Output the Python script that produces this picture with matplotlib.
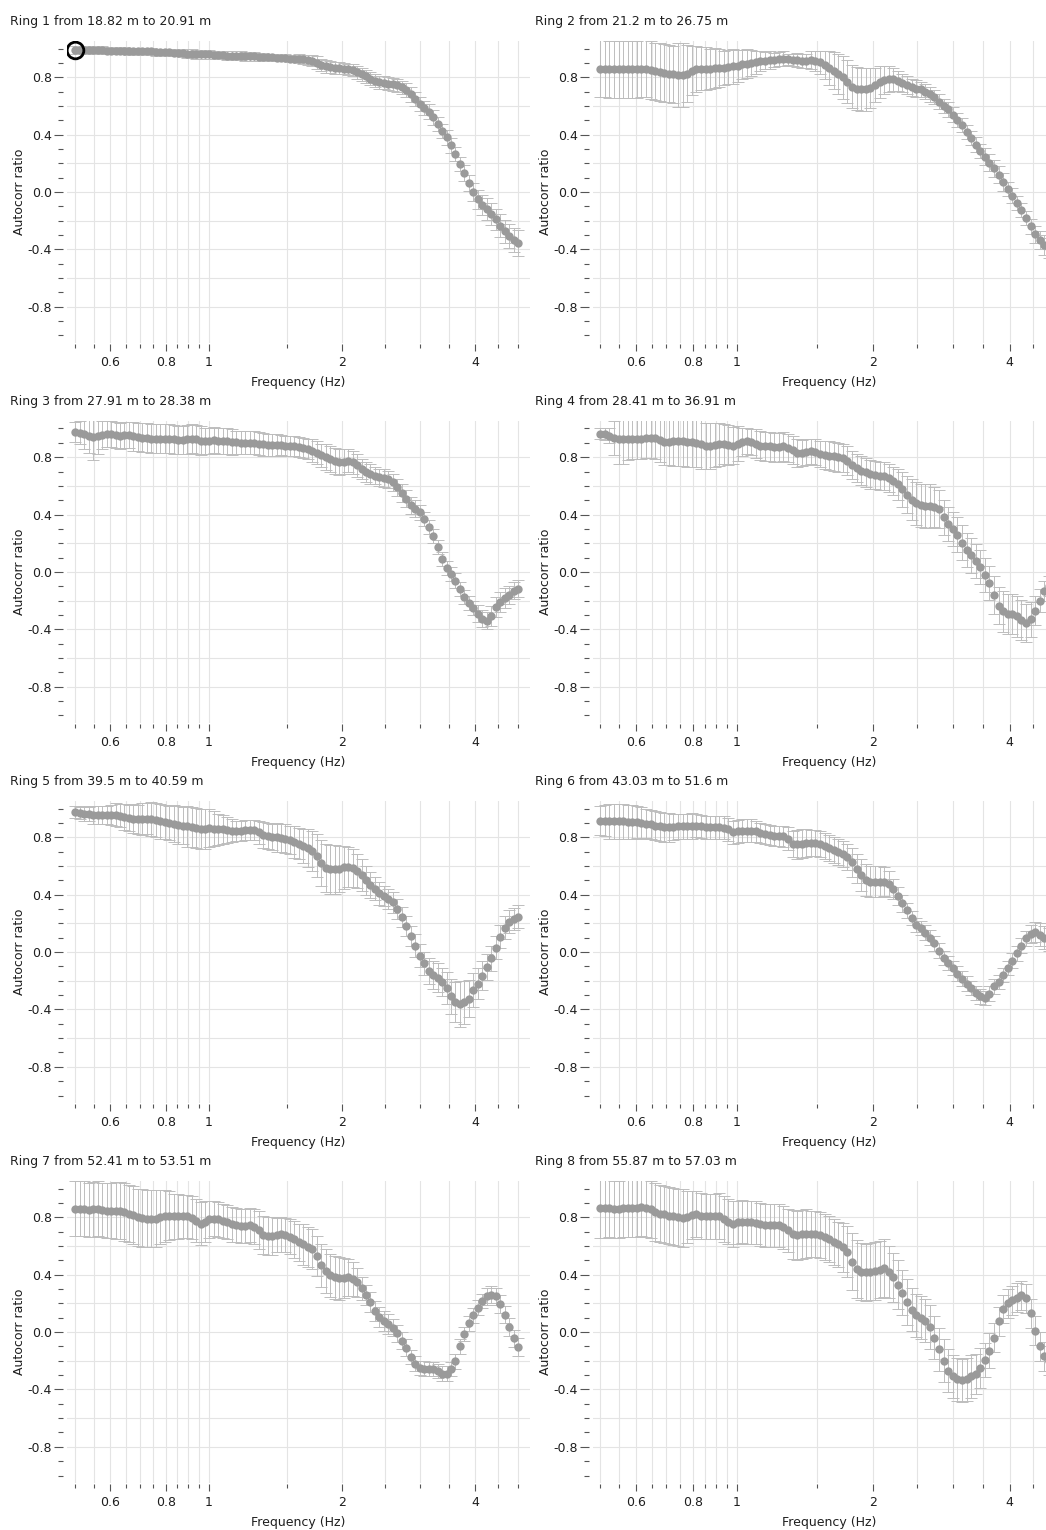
"""Autocorrelation ratio curves for the eight SPAC rings, laid out 4 x 2
like the geopsy export (log frequency axis, grey dots with error bars).
"""

import matplotlib
matplotlib.use("Agg")
import matplotlib.pyplot as plt
from matplotlib.ticker import FixedLocator, FixedFormatter, NullFormatter

# frequency samples (Hz), shared by all rings
freq = [
    0.5000, 0.5118, 0.5238, 0.5361, 0.5488, 0.5617, 0.5749, 0.5884, 0.6023, 0.6164,
    0.6309, 0.6458, 0.6610, 0.6765, 0.6924, 0.7087, 0.7254, 0.7425, 0.7600, 0.7778,
    0.7961, 0.8149, 0.8341, 0.8537, 0.8738, 0.8943, 0.9154, 0.9369, 0.9590, 0.9815,
    1.0046, 1.0283, 1.0525, 1.0772, 1.1026, 1.1285, 1.1551, 1.1823, 1.2101, 1.2386,
    1.2677, 1.2975, 1.3280, 1.3593, 1.3913, 1.4240, 1.4575, 1.4918, 1.5269, 1.5628,
    1.5996, 1.6373, 1.6758, 1.7152, 1.7556, 1.7969, 1.8392, 1.8825, 1.9268, 1.9721,
    2.0185, 2.0660, 2.1146, 2.1644, 2.2153, 2.2674, 2.3208, 2.3754, 2.4313, 2.4885,
    2.5471, 2.6070, 2.6683, 2.7311, 2.7954, 2.8612, 2.9285, 2.9974, 3.0679, 3.1401,
    3.2140, 3.2897, 3.3671, 3.4463, 3.5274, 3.6104, 3.6953, 3.7823, 3.8713, 3.9624,
    4.0557, 4.1511, 4.2488, 4.3488, 4.4511, 4.5558, 4.6630, 4.7727, 4.8850, 5.0000,
]

titles = [
    "Ring 1 from 18.82 m to 20.91 m",
    "Ring 2 from 21.2 m to 26.75 m",
    "Ring 3 from 27.91 m to 28.38 m",
    "Ring 4 from 28.41 m to 36.91 m",
    "Ring 5 from 39.5 m to 40.59 m",
    "Ring 6 from 43.03 m to 51.6 m",
    "Ring 7 from 52.41 m to 53.51 m",
    "Ring 8 from 55.87 m to 57.03 m",
]

ring1_ratio = [
    0.99, 0.99, 0.99, 0.99, 0.99, 0.99, 0.99, 0.985, 0.985, 0.985,
    0.985, 0.985, 0.98, 0.98, 0.98, 0.98, 0.98, 0.98, 0.975, 0.975,
    0.975, 0.975, 0.97, 0.97, 0.97, 0.965, 0.965, 0.96, 0.96, 0.96,
    0.96, 0.955, 0.955, 0.955, 0.95, 0.95, 0.95, 0.95, 0.945, 0.945,
    0.945, 0.94, 0.94, 0.94, 0.94, 0.935, 0.935, 0.935, 0.93, 0.93,
    0.93, 0.925, 0.92, 0.915, 0.90, 0.885, 0.875, 0.87, 0.865, 0.865,
    0.86, 0.855, 0.85, 0.835, 0.82, 0.805, 0.79, 0.775, 0.765, 0.76,
    0.755, 0.75, 0.745, 0.73, 0.71, 0.68, 0.65, 0.615, 0.585, 0.56,
    0.52, 0.475, 0.425, 0.38, 0.325, 0.265, 0.195, 0.135, 0.065, 0.0,
    -0.05, -0.09, -0.12, -0.155, -0.19, -0.235, -0.275, -0.305, -0.335, -0.355,
]
ring1_err = [
    0.025, 0.025, 0.025, 0.025, 0.025, 0.025, 0.025, 0.025, 0.025, 0.025,
    0.025, 0.025, 0.025, 0.025, 0.025, 0.025, 0.025, 0.025, 0.025, 0.025,
    0.025, 0.025, 0.025, 0.025, 0.03, 0.03, 0.03, 0.03, 0.03, 0.03,
    0.03, 0.03, 0.03, 0.03, 0.03, 0.03, 0.03, 0.03, 0.03, 0.03,
    0.03, 0.03, 0.03, 0.025, 0.025, 0.025, 0.025, 0.025, 0.025, 0.025,
    0.03, 0.03, 0.035, 0.04, 0.045, 0.045, 0.045, 0.04, 0.04, 0.04,
    0.04, 0.04, 0.04, 0.045, 0.045, 0.045, 0.045, 0.045, 0.045, 0.045,
    0.045, 0.045, 0.045, 0.045, 0.05, 0.05, 0.05, 0.05, 0.05, 0.05,
    0.05, 0.05, 0.05, 0.05, 0.05, 0.05, 0.05, 0.055, 0.055, 0.06,
    0.065, 0.07, 0.075, 0.075, 0.075, 0.08, 0.08, 0.085, 0.085, 0.09,
]

ring2_ratio = [
    0.86, 0.86, 0.855, 0.855, 0.855, 0.855, 0.855, 0.855, 0.855, 0.86,
    0.86, 0.85, 0.84, 0.835, 0.83, 0.825, 0.82, 0.815, 0.815, 0.825,
    0.845, 0.855, 0.86, 0.86, 0.86, 0.865, 0.865, 0.865, 0.87, 0.875,
    0.88, 0.89, 0.895, 0.90, 0.905, 0.91, 0.915, 0.92, 0.92, 0.925,
    0.93, 0.925, 0.92, 0.92, 0.915, 0.915, 0.92, 0.915, 0.905, 0.885,
    0.865, 0.845, 0.825, 0.80, 0.77, 0.735, 0.72, 0.715, 0.715, 0.725,
    0.745, 0.765, 0.78, 0.785, 0.785, 0.775, 0.76, 0.745, 0.73, 0.72,
    0.715, 0.70, 0.68, 0.66, 0.63, 0.60, 0.575, 0.54, 0.50, 0.465,
    0.42, 0.375, 0.33, 0.285, 0.245, 0.205, 0.165, 0.12, 0.07, 0.02,
    -0.025, -0.075, -0.125, -0.18, -0.24, -0.295, -0.335, -0.37, -0.39, -0.41,
]
ring2_err = [
    0.2, 0.2, 0.2, 0.2, 0.2, 0.2, 0.2, 0.2, 0.2, 0.2,
    0.2, 0.2, 0.2, 0.2, 0.2, 0.2, 0.2, 0.22, 0.22, 0.2,
    0.17, 0.16, 0.15, 0.15, 0.14, 0.14, 0.13, 0.12, 0.12, 0.12,
    0.11, 0.1, 0.1, 0.09, 0.08, 0.07, 0.06, 0.06, 0.05, 0.05,
    0.05, 0.04, 0.04, 0.05, 0.05, 0.05, 0.06, 0.07, 0.08, 0.1,
    0.12, 0.13, 0.14, 0.15, 0.15, 0.15, 0.15, 0.15, 0.15, 0.14,
    0.12, 0.11, 0.1, 0.09, 0.08, 0.07, 0.06, 0.06, 0.06, 0.06,
    0.05, 0.05, 0.05, 0.05, 0.05, 0.05, 0.05, 0.05, 0.05, 0.05,
    0.05, 0.05, 0.05, 0.05, 0.06, 0.06, 0.06, 0.06, 0.06, 0.05,
    0.05, 0.05, 0.05, 0.05, 0.05, 0.06, 0.06, 0.07, 0.07, 0.07,
]

ring3_ratio = [
    0.975, 0.97, 0.96, 0.95, 0.94, 0.945, 0.955, 0.96, 0.96, 0.955,
    0.95, 0.955, 0.955, 0.945, 0.94, 0.935, 0.935, 0.93, 0.93, 0.93,
    0.93, 0.93, 0.925, 0.92, 0.92, 0.925, 0.93, 0.925, 0.915, 0.91,
    0.915, 0.92, 0.915, 0.91, 0.91, 0.905, 0.905, 0.90, 0.90, 0.90,
    0.90, 0.895, 0.89, 0.885, 0.885, 0.885, 0.885, 0.88, 0.875, 0.875,
    0.87, 0.865, 0.86, 0.845, 0.83, 0.815, 0.80, 0.785, 0.775, 0.765,
    0.77, 0.775, 0.765, 0.745, 0.715, 0.695, 0.685, 0.67, 0.66, 0.655,
    0.645, 0.625, 0.59, 0.55, 0.51, 0.465, 0.44, 0.415, 0.37, 0.315,
    0.25, 0.175, 0.09, 0.03, -0.015, -0.06, -0.12, -0.175, -0.215, -0.25,
    -0.29, -0.325, -0.34, -0.305, -0.245, -0.21, -0.18, -0.16, -0.13, -0.115,
]
ring3_err = [
    0.07, 0.08, 0.1, 0.12, 0.16, 0.12, 0.1, 0.09, 0.09, 0.09,
    0.09, 0.09, 0.09, 0.1, 0.1, 0.1, 0.1, 0.1, 0.1, 0.1,
    0.1, 0.1, 0.1, 0.1, 0.1, 0.1, 0.1, 0.1, 0.1, 0.09,
    0.09, 0.09, 0.09, 0.09, 0.09, 0.09, 0.08, 0.08, 0.08, 0.08,
    0.08, 0.08, 0.08, 0.08, 0.08, 0.08, 0.07, 0.07, 0.07, 0.07,
    0.07, 0.07, 0.07, 0.08, 0.08, 0.08, 0.09, 0.09, 0.09, 0.09,
    0.09, 0.08, 0.08, 0.08, 0.07, 0.07, 0.07, 0.06, 0.06, 0.06,
    0.06, 0.06, 0.06, 0.06, 0.06, 0.06, 0.06, 0.05, 0.05, 0.05,
    0.05, 0.05, 0.05, 0.05, 0.05, 0.05, 0.05, 0.05, 0.05, 0.05,
    0.06, 0.06, 0.06, 0.07, 0.07, 0.07, 0.07, 0.06, 0.06, 0.06,
]

ring4_ratio = [
    0.965, 0.96, 0.95, 0.935, 0.93, 0.93, 0.93, 0.93, 0.93, 0.93,
    0.935, 0.935, 0.935, 0.92, 0.905, 0.905, 0.91, 0.91, 0.91, 0.905,
    0.905, 0.90, 0.89, 0.88, 0.88, 0.885, 0.89, 0.89, 0.885, 0.88,
    0.895, 0.905, 0.91, 0.905, 0.895, 0.88, 0.875, 0.875, 0.87, 0.87,
    0.875, 0.865, 0.85, 0.83, 0.83, 0.835, 0.84, 0.835, 0.825, 0.815,
    0.81, 0.805, 0.80, 0.795, 0.775, 0.745, 0.725, 0.705, 0.695, 0.68,
    0.675, 0.67, 0.67, 0.655, 0.635, 0.61, 0.575, 0.54, 0.505, 0.48,
    0.465, 0.46, 0.46, 0.455, 0.44, 0.38, 0.335, 0.30, 0.26, 0.205,
    0.155, 0.115, 0.075, 0.035, -0.02, -0.075, -0.16, -0.235, -0.275, -0.29,
    -0.295, -0.31, -0.335, -0.355, -0.33, -0.27, -0.20, -0.135, -0.10, -0.08,
]
ring4_err = [
    0.04, 0.04, 0.05, 0.12, 0.18, 0.18, 0.15, 0.14, 0.14, 0.14,
    0.14, 0.14, 0.15, 0.15, 0.16, 0.16, 0.17, 0.17, 0.17, 0.17,
    0.17, 0.17, 0.17, 0.16, 0.16, 0.15, 0.15, 0.14, 0.14, 0.13,
    0.12, 0.1, 0.09, 0.09, 0.1, 0.1, 0.1, 0.1, 0.1, 0.1,
    0.1, 0.1, 0.1, 0.1, 0.09, 0.09, 0.09, 0.09, 0.09, 0.1,
    0.1, 0.1, 0.1, 0.1, 0.1, 0.1, 0.1, 0.1, 0.1, 0.1,
    0.1, 0.1, 0.1, 0.1, 0.1, 0.11, 0.12, 0.13, 0.14, 0.15,
    0.15, 0.15, 0.15, 0.14, 0.13, 0.12, 0.12, 0.12, 0.12, 0.12,
    0.12, 0.12, 0.12, 0.12, 0.12, 0.12, 0.13, 0.13, 0.14, 0.14,
    0.14, 0.14, 0.14, 0.13, 0.12, 0.1, 0.08, 0.07, 0.07, 0.07,
]

ring5_ratio = [
    0.975, 0.97, 0.965, 0.96, 0.955, 0.955, 0.955, 0.955, 0.955, 0.955,
    0.95, 0.94, 0.935, 0.93, 0.925, 0.925, 0.93, 0.925, 0.92, 0.91,
    0.905, 0.90, 0.895, 0.885, 0.88, 0.875, 0.87, 0.865, 0.86, 0.86,
    0.865, 0.86, 0.855, 0.855, 0.85, 0.845, 0.845, 0.845, 0.85, 0.85,
    0.85, 0.835, 0.815, 0.81, 0.80, 0.80, 0.795, 0.79, 0.78, 0.765,
    0.755, 0.74, 0.725, 0.705, 0.67, 0.62, 0.585, 0.575, 0.575, 0.58,
    0.59, 0.59, 0.585, 0.565, 0.535, 0.50, 0.465, 0.44, 0.41, 0.39,
    0.37, 0.345, 0.30, 0.245, 0.18, 0.11, 0.045, -0.025, -0.08, -0.135,
    -0.16, -0.18, -0.21, -0.25, -0.31, -0.35, -0.365, -0.35, -0.325, -0.265,
    -0.22, -0.165, -0.105, -0.045, 0.03, 0.105, 0.17, 0.21, 0.23, 0.245,
]
ring5_err = [
    0.04, 0.04, 0.05, 0.05, 0.06, 0.06, 0.06, 0.06, 0.07, 0.08,
    0.08, 0.09, 0.09, 0.1, 0.1, 0.11, 0.11, 0.12, 0.12, 0.12,
    0.12, 0.12, 0.13, 0.13, 0.13, 0.14, 0.14, 0.14, 0.14, 0.14,
    0.13, 0.12, 0.11, 0.1, 0.09, 0.08, 0.07, 0.07, 0.07, 0.07,
    0.07, 0.08, 0.09, 0.09, 0.09, 0.1, 0.1, 0.1, 0.1, 0.11,
    0.11, 0.12, 0.13, 0.14, 0.15, 0.16, 0.17, 0.17, 0.17, 0.16,
    0.15, 0.14, 0.13, 0.12, 0.11, 0.1, 0.09, 0.08, 0.08, 0.07,
    0.07, 0.07, 0.07, 0.07, 0.07, 0.07, 0.08, 0.08, 0.08, 0.09,
    0.1, 0.1, 0.1, 0.11, 0.12, 0.14, 0.16, 0.15, 0.13, 0.12,
    0.11, 0.1, 0.09, 0.09, 0.08, 0.08, 0.08, 0.08, 0.08, 0.08,
]

ring6_ratio = [
    0.915, 0.915, 0.91, 0.91, 0.91, 0.91, 0.905, 0.905, 0.905, 0.90,
    0.895, 0.89, 0.88, 0.875, 0.87, 0.87, 0.87, 0.875, 0.875, 0.875,
    0.88, 0.88, 0.875, 0.87, 0.87, 0.87, 0.87, 0.865, 0.855, 0.835,
    0.84, 0.845, 0.845, 0.845, 0.84, 0.83, 0.825, 0.815, 0.81, 0.81,
    0.805, 0.79, 0.755, 0.75, 0.755, 0.76, 0.76, 0.76, 0.75, 0.74,
    0.725, 0.71, 0.695, 0.685, 0.66, 0.625, 0.58, 0.535, 0.50, 0.49,
    0.49, 0.49, 0.49, 0.475, 0.44, 0.39, 0.34, 0.29, 0.235, 0.19,
    0.165, 0.135, 0.10, 0.06, 0.01, -0.04, -0.075, -0.11, -0.15, -0.185,
    -0.22, -0.25, -0.285, -0.31, -0.32, -0.29, -0.24, -0.21, -0.16, -0.11,
    -0.06, -0.01, 0.045, 0.095, 0.125, 0.14, 0.12, 0.10, 0.09, 0.085,
]
ring6_err = [
    0.1, 0.11, 0.12, 0.12, 0.12, 0.12, 0.12, 0.12, 0.11, 0.11,
    0.1, 0.1, 0.1, 0.1, 0.1, 0.1, 0.09, 0.09, 0.09, 0.09,
    0.09, 0.08, 0.08, 0.08, 0.08, 0.08, 0.08, 0.08, 0.08, 0.08,
    0.08, 0.08, 0.08, 0.08, 0.07, 0.07, 0.07, 0.07, 0.07, 0.07,
    0.07, 0.08, 0.09, 0.1, 0.1, 0.1, 0.09, 0.09, 0.09, 0.09,
    0.09, 0.09, 0.09, 0.09, 0.09, 0.1, 0.1, 0.11, 0.11, 0.11,
    0.11, 0.11, 0.1, 0.09, 0.07, 0.06, 0.06, 0.05, 0.05, 0.05,
    0.05, 0.05, 0.05, 0.05, 0.05, 0.05, 0.05, 0.05, 0.05, 0.05,
    0.05, 0.05, 0.05, 0.05, 0.05, 0.05, 0.05, 0.05, 0.05, 0.05,
    0.05, 0.05, 0.05, 0.05, 0.06, 0.07, 0.08, 0.08, 0.08, 0.08,
]

ring7_ratio = [
    0.86, 0.86, 0.86, 0.85, 0.855, 0.86, 0.85, 0.845, 0.845, 0.845,
    0.845, 0.835, 0.825, 0.815, 0.80, 0.795, 0.79, 0.79, 0.79, 0.80,
    0.81, 0.81, 0.805, 0.805, 0.805, 0.805, 0.795, 0.775, 0.755, 0.77,
    0.785, 0.79, 0.785, 0.775, 0.765, 0.75, 0.745, 0.74, 0.74, 0.745,
    0.735, 0.71, 0.675, 0.67, 0.67, 0.675, 0.68, 0.675, 0.665, 0.645,
    0.625, 0.61, 0.595, 0.58, 0.53, 0.465, 0.425, 0.395, 0.38, 0.375,
    0.375, 0.38, 0.37, 0.345, 0.305, 0.255, 0.21, 0.145, 0.105, 0.075,
    0.055, 0.03, -0.01, -0.06, -0.11, -0.175, -0.22, -0.25, -0.255, -0.26,
    -0.26, -0.27, -0.29, -0.29, -0.26, -0.205, -0.10, -0.015, 0.06, 0.115,
    0.17, 0.215, 0.25, 0.26, 0.25, 0.195, 0.12, 0.035, -0.045, -0.105,
]
ring7_err = [
    0.19, 0.19, 0.19, 0.19, 0.19, 0.19, 0.19, 0.19, 0.19, 0.2,
    0.2, 0.2, 0.2, 0.2, 0.2, 0.2, 0.2, 0.2, 0.2, 0.19,
    0.18, 0.17, 0.16, 0.16, 0.15, 0.15, 0.15, 0.15, 0.15, 0.14,
    0.13, 0.12, 0.12, 0.12, 0.12, 0.12, 0.12, 0.12, 0.12, 0.12,
    0.12, 0.13, 0.13, 0.13, 0.13, 0.12, 0.12, 0.12, 0.12, 0.13,
    0.13, 0.14, 0.14, 0.14, 0.14, 0.15, 0.15, 0.15, 0.15, 0.15,
    0.14, 0.13, 0.12, 0.1, 0.08, 0.07, 0.07, 0.07, 0.07, 0.07,
    0.07, 0.06, 0.06, 0.06, 0.06, 0.05, 0.05, 0.05, 0.05, 0.05,
    0.05, 0.05, 0.05, 0.05, 0.05, 0.05, 0.05, 0.05, 0.05, 0.05,
    0.05, 0.05, 0.06, 0.06, 0.06, 0.06, 0.06, 0.06, 0.06, 0.06,
]

ring8_ratio = [
    0.865, 0.865, 0.865, 0.855, 0.855, 0.865, 0.865, 0.865, 0.865, 0.87,
    0.865, 0.855, 0.835, 0.825, 0.82, 0.81, 0.805, 0.80, 0.795, 0.80,
    0.815, 0.82, 0.81, 0.805, 0.805, 0.805, 0.81, 0.79, 0.77, 0.755,
    0.765, 0.77, 0.765, 0.765, 0.76, 0.75, 0.745, 0.745, 0.745, 0.745,
    0.73, 0.71, 0.68, 0.675, 0.68, 0.685, 0.685, 0.685, 0.675, 0.665,
    0.645, 0.63, 0.61, 0.59, 0.56, 0.49, 0.44, 0.42, 0.415, 0.42,
    0.425, 0.435, 0.445, 0.42, 0.38, 0.33, 0.275, 0.21, 0.155, 0.115,
    0.10, 0.08, 0.035, -0.04, -0.12, -0.20, -0.27, -0.31, -0.33, -0.335,
    -0.33, -0.31, -0.29, -0.25, -0.195, -0.13, -0.04, 0.075, 0.16, 0.20,
    0.22, 0.24, 0.255, 0.235, 0.13, 0.01, -0.10, -0.17, -0.20, -0.22,
]
ring8_err = [
    0.21, 0.21, 0.2, 0.2, 0.2, 0.2, 0.2, 0.2, 0.2, 0.2,
    0.2, 0.2, 0.2, 0.2, 0.2, 0.2, 0.2, 0.2, 0.2, 0.18,
    0.17, 0.16, 0.16, 0.16, 0.16, 0.16, 0.16, 0.16, 0.16, 0.16,
    0.15, 0.15, 0.15, 0.15, 0.15, 0.15, 0.15, 0.15, 0.15, 0.15,
    0.15, 0.15, 0.17, 0.17, 0.17, 0.17, 0.16, 0.16, 0.16, 0.16,
    0.16, 0.16, 0.16, 0.17, 0.18, 0.2, 0.2, 0.2, 0.2, 0.2,
    0.2, 0.2, 0.2, 0.18, 0.17, 0.17, 0.16, 0.16, 0.15, 0.15,
    0.15, 0.15, 0.15, 0.15, 0.15, 0.15, 0.15, 0.15, 0.15, 0.15,
    0.15, 0.15, 0.14, 0.14, 0.12, 0.12, 0.1, 0.1, 0.1, 0.1,
    0.1, 0.1, 0.1, 0.1, 0.1, 0.1, 0.1, 0.1, 0.1, 0.1,
]

rings = [
    (ring1_ratio, ring1_err), (ring2_ratio, ring2_err),
    (ring3_ratio, ring3_err), (ring4_ratio, ring4_err),
    (ring5_ratio, ring5_err), (ring6_ratio, ring6_err),
    (ring7_ratio, ring7_err), (ring8_ratio, ring8_err),
]

x_major = [0.6, 0.8, 1, 2, 4]
x_major_labels = ["0.6", "0.8", "1", "2", "4"]
x_minor = [0.5, 0.55, 0.65, 0.7, 0.75, 0.85, 0.9, 0.95, 1.5, 2.5, 3, 3.5, 4.5, 5]
y_major = [-0.8, -0.4, 0.0, 0.4, 0.8]
y_major_labels = ["-0.8", "-0.4", "0.0", "0.4", "0.8"]
y_minor = [-1.0, -0.9, -0.7, -0.6, -0.5, -0.3, -0.2, -0.1,
           0.1, 0.2, 0.3, 0.5, 0.6, 0.7, 0.9, 1.0]
y_grid = [-0.8, -0.6, -0.4, -0.2, 0.0, 0.2, 0.4, 0.6, 0.8]

# page geometry in pixels (figure is 1046 x 1530 at dpi 100)
W, H = 1046, 1530
ZERO_ROW_PX = [192, 572, 952, 1332]   # pixel row of y = 0 in each row of panels
PX_PER_UNIT = 143.5
COLS = [  # left px, width px, x limits
    (67, 463, (0.479, 5.32)),
    (593, 472, (0.482, 5.30)),
]
TITLE_X_PX = [10, 535]

DOT = "#9a9a9a"
BAR = "#bdbdbd"
GRID = "#e4e4e4"
TEXT = "#1e1e1e"

plt.rcParams.update({
    "font.family": ["DejaVu Sans"],
    "font.size": 9,
    "axes.unicode_minus": False,
    "text.color": TEXT,
    "axes.labelcolor": TEXT,
    "xtick.color": "#555555",
    "ytick.color": "#555555",
    "xtick.labelcolor": TEXT,
    "ytick.labelcolor": TEXT,
})

fig = plt.figure(figsize=(W / 100, H / 100), dpi=100)

for k, (ratio, err) in enumerate(rings):
    row, col = divmod(k, 2)
    left, width, xlim = COLS[col]
    zero = ZERO_ROW_PX[row]
    top = zero - 1.05 * PX_PER_UNIT
    height = 2.1 * PX_PER_UNIT
    ax = fig.add_axes([left / W, 1 - (top + height) / H, width / W, height / H])

    ax.errorbar(freq, ratio, yerr=err, fmt="none", ecolor=BAR,
                elinewidth=0.7, capsize=4, capthick=0.7, zorder=2)
    ax.plot(freq, ratio, "o", ms=6, color=DOT, mec=DOT, mew=0, zorder=3)
    if k == 0:
        # the currently selected sample in the original viewer
        ax.plot(freq[0], ratio[0], "o", ms=12, mfc="none", mec="black",
                mew=2, zorder=4)

    ax.set_xscale("log")
    ax.set_xlim(*xlim)
    ax.set_ylim(-1.05, 1.05)

    ax.xaxis.set_major_locator(FixedLocator(x_major))
    ax.xaxis.set_major_formatter(FixedFormatter(x_major_labels))
    ax.xaxis.set_minor_locator(FixedLocator(x_minor))
    ax.xaxis.set_minor_formatter(NullFormatter())
    ax.yaxis.set_major_locator(FixedLocator(y_major))
    ax.yaxis.set_major_formatter(FixedFormatter(y_major_labels))
    ax.yaxis.set_minor_locator(FixedLocator(y_minor))

    ax.set_axisbelow(True)
    ax.grid(True, which="both", axis="x", color=GRID, linewidth=0.8)
    for v in y_grid:
        ax.axhline(v, color=GRID, linewidth=0.8, zorder=0)

    for s in ax.spines.values():
        s.set_visible(False)
    ax.spines["left"].set_position(("outward", 3))
    ax.spines["bottom"].set_position(("outward", 1))

    ax.tick_params(axis="y", which="major", length=6.5, width=0.8, pad=1.5)
    ax.tick_params(axis="y", which="minor", length=3.5, width=0.8)
    ax.tick_params(axis="x", which="major", length=5, width=0.8, pad=3.5)
    ax.tick_params(axis="x", which="minor", length=3, width=0.8)

    ax.set_xlabel("Frequency (Hz)")
    ax.xaxis.set_label_coords(0.5, -0.11)
    ax.set_ylabel("Autocorr ratio")
    ax.yaxis.set_label_coords(-41 / width, 0.5)

    fig.text(TITLE_X_PX[col] / W, 1 - (zero - 170) / H, titles[k],
             ha="left", va="center", fontsize=9)

fig.savefig("out.png", dpi=100)
